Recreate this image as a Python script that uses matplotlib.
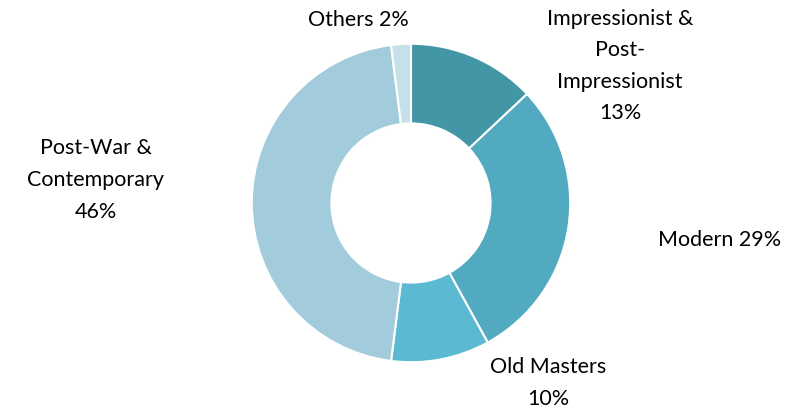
import matplotlib
matplotlib.use("Agg")
import matplotlib.pyplot as plt

categories = ["Impressionist &\nPost-\nImpressionist", "Modern", "Old Masters",
              "Post-War &\nContemporary", "Others"]
values = [13, 29, 10, 46, 2]
label_texts = ["Impressionist &\nPost-\nImpressionist\n13%", "Modern 29%", "Old Masters\n10%",
               "Post-War &\nContemporary\n46%", "Others 2%"]
colors = ["#4396a6", "#52aac0", "#5bbad2", "#a2ccdc", "#c6e0e9"]

W, H = 807, 413
fig = plt.figure(figsize=(W / 100, H / 100), dpi=100)
cx, cy, r = 411, 203, 160
ax = fig.add_axes([(cx - r) / W, (H - cy - r) / H, 2 * r / W, 2 * r / H])
ax.pie(values, colors=colors, startangle=90, counterclock=False, radius=1,
       wedgeprops=dict(width=0.5, edgecolor="white", linewidth=1.5))
ax.set_xlim(-1.005, 1.005)
ax.set_ylim(-1.005, 1.005)
ax.set_aspect("equal")
ax.axis("off")

label_pos = [(620, 66), (720, 240), (548, 383), (96, 180), (358, 20)]
for txt, (x, y) in zip(label_texts, label_pos):
    fig.text(x / W, 1 - y / H, txt, ha="center", va="center", fontsize=15.5,
             family=["Lato", "DejaVu Sans"], linespacing=1.72, color="#000000")

fig.savefig("out.png", dpi=100)
